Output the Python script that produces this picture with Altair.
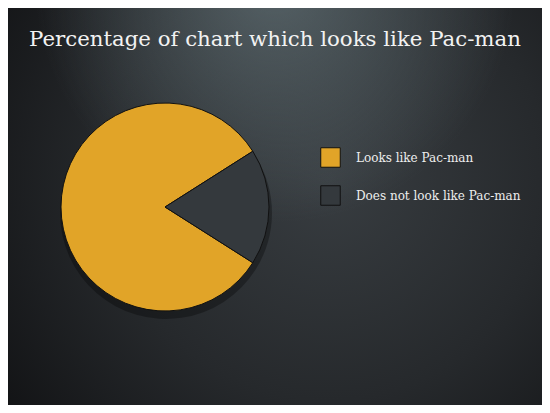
import altair as alt
import pandas as pd

# ---- data ----
categories = ["Looks like Pac-man", "Does not look like Pac-man"]
values = [82, 18]
stack_order = [1, 0]
slice_colors = ["#e1a428", "#34393d"]
title_text = "Percentage of chart which looks like Pac-man"

W, H = 534, 397
CX, CY, R = 157, 199, 104
START = 1.0053  # radians, clockwise from 12 o'clock

df = pd.DataFrame({"category": categories, "value": values, "ord": stack_order})
one = pd.DataFrame({"a": [0]})

bg_base = alt.Chart(one).mark_rect(
    fill=alt.RadialGradient(
        gradient="radial",
        x1=0.6, y1=0.45, r1=0.0,
        x2=0.6, y2=0.45, r2=0.75,
        stops=[
            alt.GradientStop(offset=0, color="#383d41"),
            alt.GradientStop(offset=0.55, color="#26292c"),
            alt.GradientStop(offset=1, color="#121315"),
        ],
    )
).encode(x=alt.value(0), x2=alt.value(W), y=alt.value(0), y2=alt.value(H))

bg_glow = alt.Chart(one).mark_rect(
    fill=alt.RadialGradient(
        gradient="radial",
        x1=0.5, y1=0.08, r1=0.0,
        x2=0.5, y2=0.08, r2=0.45,
        stops=[
            alt.GradientStop(offset=0, color="rgba(100,115,120,0.75)"),
            alt.GradientStop(offset=1, color="rgba(100,115,120,0)"),
        ],
    )
).encode(x=alt.value(0), x2=alt.value(W), y=alt.value(0), y2=alt.value(H))

title = alt.Chart(one).mark_text(
    text=title_text, font="DejaVu Serif", fontSize=21.3, color="#f2f2f2",
    align="center", baseline="alphabetic",
).encode(x=alt.value(W / 2), y=alt.value(38))

theta = alt.Theta("value:Q", stack=True, scale=alt.Scale(range=[START, START + 6.283185]))

shadow = alt.Chart(df).mark_arc(color="#000000", opacity=0.3, radius=R + 2).encode(
    theta=theta, order=alt.Order("ord:Q"),
    x=alt.value(CX + 1), y=alt.value(CY + 6),
)

pie = alt.Chart(df).mark_arc(radius=R, stroke="#111111", strokeWidth=1, opacity=1).encode(
    theta=theta,
    order=alt.Order("ord:Q"),
    color=alt.Color(
        "category:N",
        scale=alt.Scale(domain=categories, range=slice_colors),
        legend=alt.Legend(
            orient="none", legendX=312, legendY=139, title=None,
            symbolType="square", symbolSize=380, symbolStrokeColor="#111111",
            symbolStrokeWidth=1, symbolOpacity=1,
            labelFont="DejaVu Serif", labelFontSize=12, labelColor="#eeeeee",
            labelOffset=15, rowPadding=13, padding=0, labelLimit=0,
        ),
    ),
    x=alt.value(CX), y=alt.value(CY),
)

chart = alt.layer(bg_base, bg_glow, title, shadow, pie).properties(
    width=W, height=H, padding=0, autosize="none", background="#1a1c1e"
).configure_view(stroke=None)

chart.save("out.html", embed_options={"renderer": "svg", "actions": False})
